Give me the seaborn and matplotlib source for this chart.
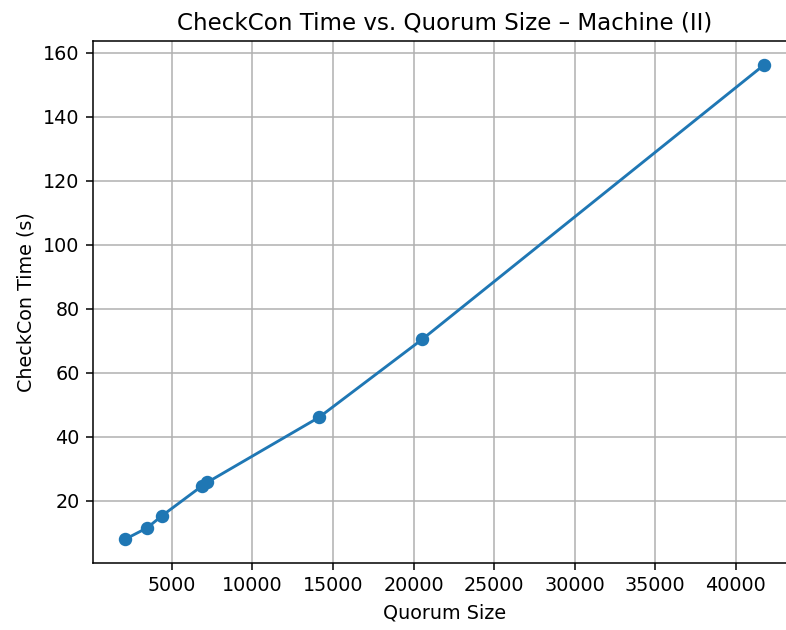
import matplotlib
matplotlib.use("Agg")
import matplotlib.pyplot as plt
import seaborn as sns
import pandas as pd

quorum_size = [2100, 3480, 4380, 6860, 7210, 14140, 20550, 41760]
checkcon_time = [8.0, 11.6, 15.3, 24.6, 25.8, 46.1, 70.5, 156.2]

df = pd.DataFrame({"Quorum Size": quorum_size, "CheckCon Time (s)": checkcon_time})

DPI = 138
fig, ax = plt.subplots(figsize=(786 / DPI, 630 / DPI), dpi=DPI)
fig.subplots_adjust(left=0.1184, right=1.013, top=0.9349, bottom=0.1063)

sns.lineplot(data=df, x="Quorum Size", y="CheckCon Time (s)", ax=ax,
             marker="o", markersize=6, color="#1f77b4", linewidth=1.5,
             markeredgecolor="#1f77b4", markeredgewidth=1, sort=False)

ax.grid(True, color="#b0b0b0", linewidth=0.8)
ax.set_axisbelow(True)
ax.set_xticks([5000, 10000, 15000, 20000, 25000, 30000, 35000, 40000])
ax.set_yticks([20, 40, 60, 80, 100, 120, 140, 160])
ax.set_title("CheckCon Time vs. Quorum Size \u2013 Machine (II)", fontsize=12)
ax.set_xlabel("Quorum Size", fontsize=10)
ax.set_ylabel("CheckCon Time (s)", fontsize=10)
ax.tick_params(labelsize=10)

fig.savefig("out.png", dpi=DPI)
